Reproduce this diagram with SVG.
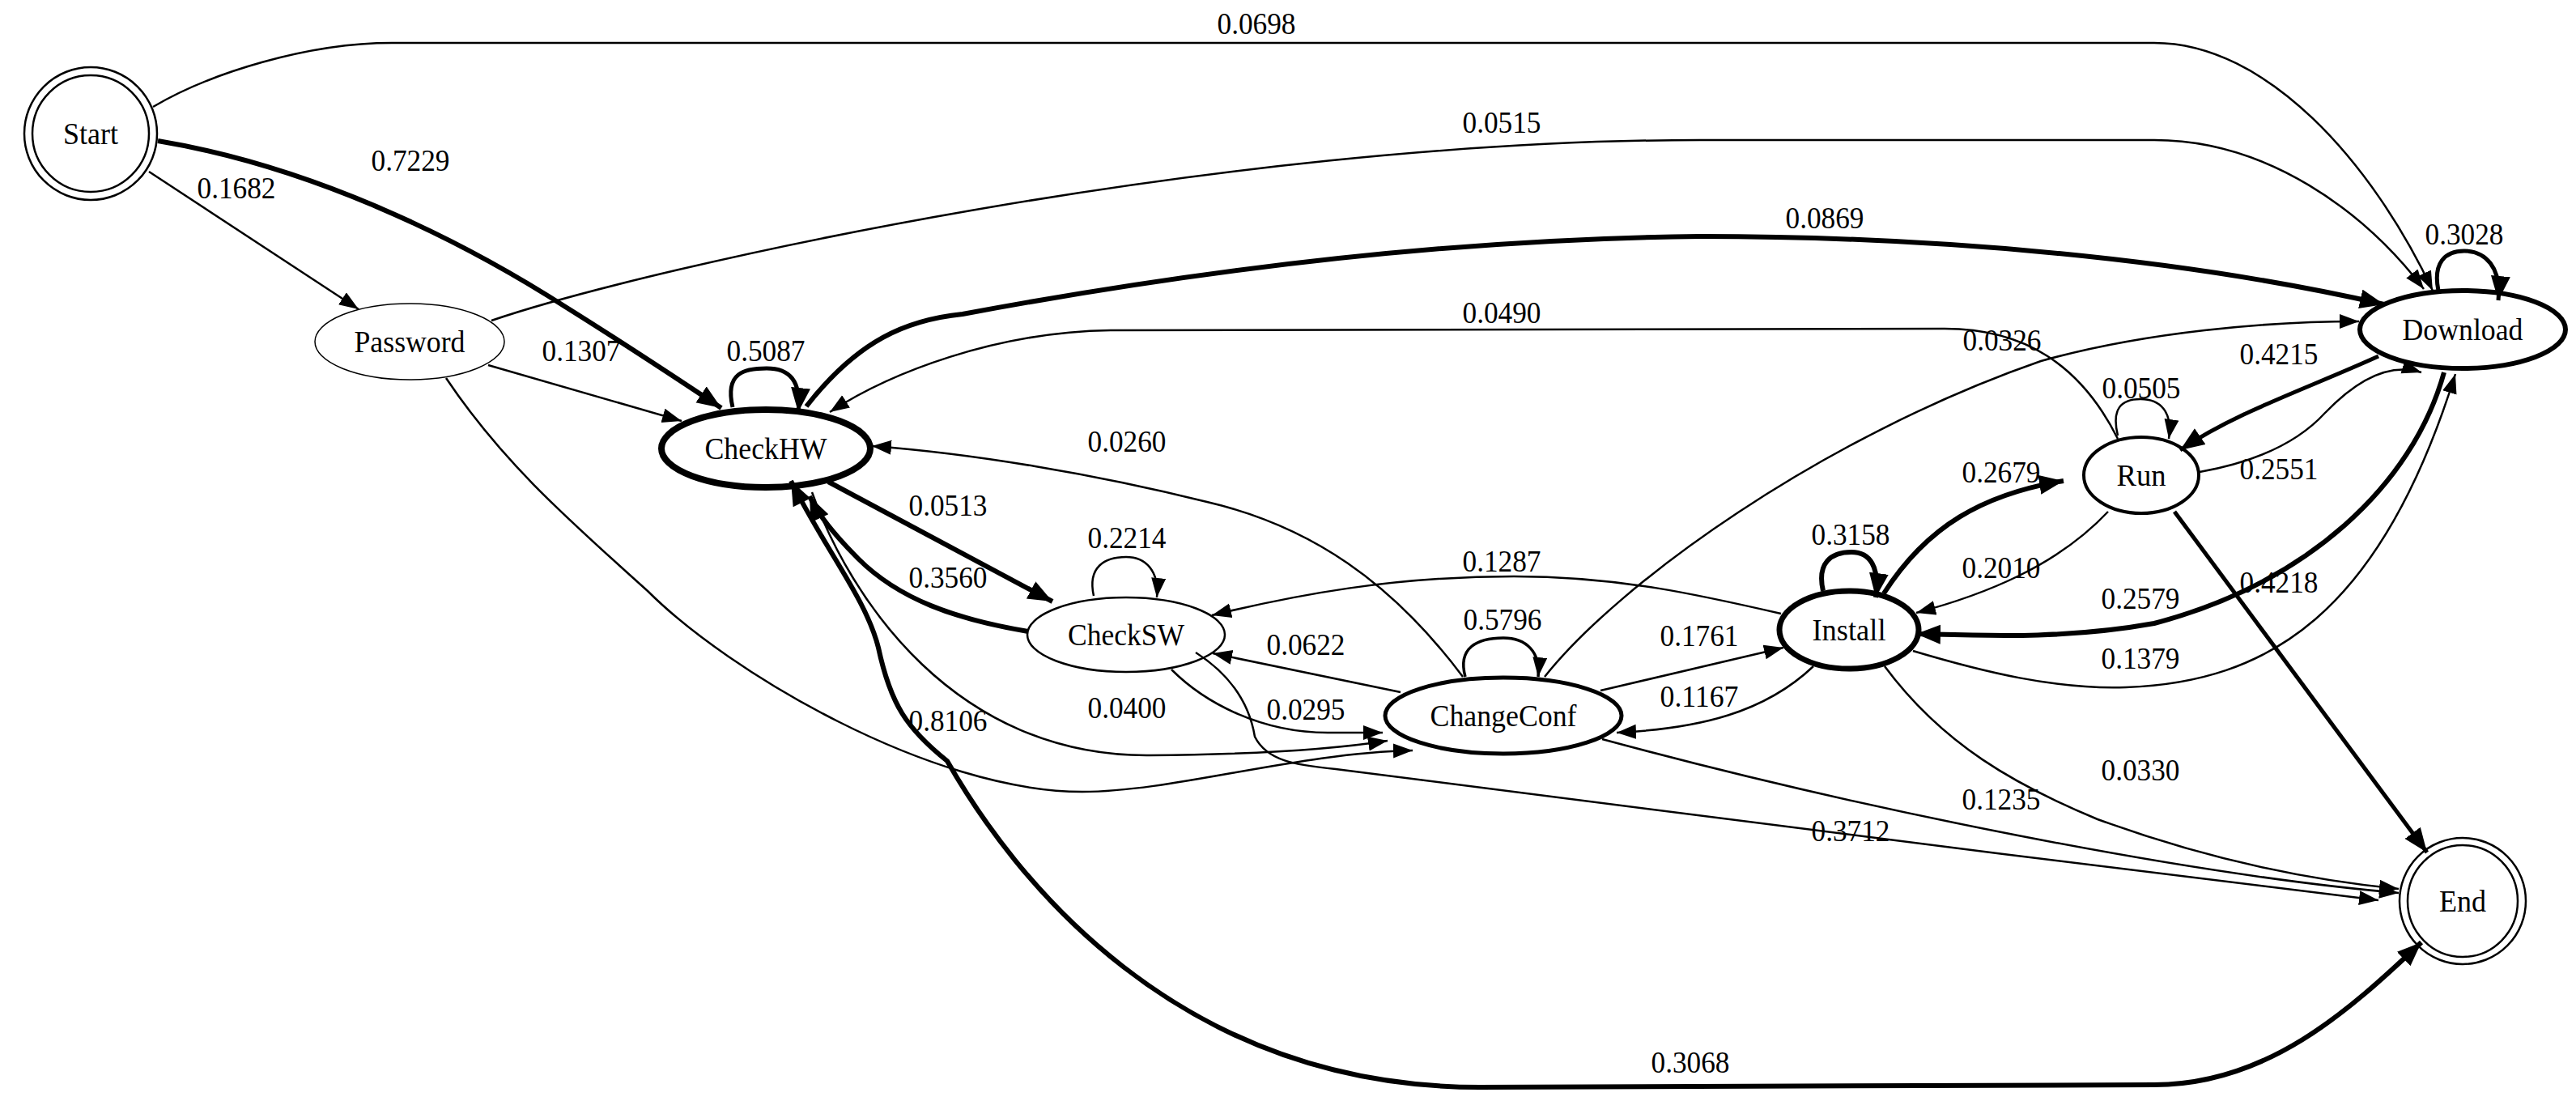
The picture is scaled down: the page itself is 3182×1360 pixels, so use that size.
<svg xmlns="http://www.w3.org/2000/svg" width="3182" height="1360" viewBox="0 0 3182 1360">
<style>
text{font-family:"Liberation Serif","Times New Roman",serif;font-size:38px;fill:#000;text-anchor:middle}
.n{fill:none;stroke:#000}
.e{fill:none;stroke:#000;stroke-width:2.5;marker-end:url(#a)}
.t{fill:none;stroke:#000;stroke-width:6;marker-end:url(#b)}
</style>
<defs>
<marker id="a" markerUnits="userSpaceOnUse" markerWidth="26" markerHeight="20" refX="24" refY="9" orient="auto"><path d="M0,0 L24,9 L0,18 Z" fill="#000"/></marker>
<marker id="b" markerUnits="userSpaceOnUse" markerWidth="32" markerHeight="26" refX="30" refY="12" orient="auto"><path d="M0,0 L30,12 L0,24 Z" fill="#000"/></marker>
<marker id="bs" markerUnits="userSpaceOnUse" markerWidth="32" markerHeight="26" refX="0" refY="12" orient="auto"><path d="M30,0 L0,12 L30,24 Z" fill="#000"/></marker>
</defs>
<rect width="3182" height="1360" fill="#fff"/>
<g id="edges">
<path class="e" d="M189,132 C260,90 380,53 484,53 L2661,53 C2800,53 2930,200 3005,359"/>
<path class="e" d="M607,396 C800,330 1500,173 2100,173 L2661,173 C2800,173 2920,260 2994,357"/>
<path class="t" d="M996,502 C1060,420 1120,395 1189,388 C1500,330 1800,295 2100,292 C2400,292 2700,320 2945,376"/>
<path class="e" d="M2616,542 C2570,450 2500,406 2402,406 L1372,408 C1230,410 1100,460 1025,509"/>
<path class="e" d="M1908,836 C2000,720 2250,540 2521,446 C2650,410 2800,397 2914,397"/>
<path class="e" d="M603,451 L842,520"/>
<path class="e" d="M184,212 L443,382"/>
<path class="t" d="M195,174 C380,205 560,290 700,380 C780,430 840,470 891,504"/>
<path class="t" style="stroke-width:5" d="M905,503 C895,460 920,455 947,455 C975,455 990,470 986,509"/>
<path class="e" d="M551,467 C620,570 700,640 800,730 C900,830 1150,978 1337,978 C1450,978 1600,930 1745,927"/>
<path class="t" d="M1023,595 L1300,743"/>
<path class="t" d="M1270,780 C1180,765 1110,740 1060,690 C1030,660 1010,635 1000,613"/>
<path class="t" style="marker-start:url(#bs)" d="M977,594 C1020,680 1070,740 1085,800 C1100,870 1120,900 1170,940 C1250,1080 1450,1343 1828,1343 L2661,1340 C2800,1340 2900,1250 2991,1164"/>
<path class="e" d="M1003,608 C1050,740 1180,935 1420,933 C1560,932 1650,925 1714,915"/>
<path class="e" d="M1447,827 C1490,870 1560,905 1640,905 L1708,905"/>
<path class="e" d="M1477,806 C1530,840 1545,880 1550,910 C1565,940 1600,945 1650,950 C1850,975 2500,1060 2938,1112"/>
<path class="e" d="M1730,855 L1498,807"/>
<path class="e" d="M1807,836 C1720,720 1620,650 1491,620 C1350,585 1200,560 1077,551"/>
<path class="e" style="stroke-width:3.5" d="M1810,836 C1800,800 1825,788 1857,788 C1885,788 1903,805 1900,836"/>
<path class="e" d="M1351,736 C1343,700 1365,688 1391,688 C1415,688 1432,705 1429,738"/>
<path class="e" d="M1977,853 L2203,800"/>
<path class="e" d="M2240,823 C2180,880 2100,900 1997,905"/>
<path class="t" d="M2252,730 C2244,695 2262,682 2287,682 C2310,682 2322,700 2317,738"/>
<path class="e" d="M2200,758 C2100,735 2000,712 1870,712 C1720,712 1600,735 1497,760"/>
<path class="e" d="M2604,632 C2540,700 2450,735 2367,757"/>
<path class="t" d="M3019,460 C2980,600 2850,720 2661,770 C2550,790 2450,785 2367,783"/>
<path class="e" d="M2363,804 C2450,830 2540,852 2626,849 C2800,843 2940,760 3033,462"/>
<path class="t" d="M2327,733 C2380,650 2450,610 2549,594"/>
<path class="e" d="M2328,823 C2400,920 2490,970 2591,1012 C2750,1070 2880,1090 2963,1098"/>
<path class="e" d="M1979,913 C2300,1000 2700,1080 2963,1103"/>
<path class="t" style="stroke-width:5" d="M2686,632 L2998,1053"/>
<path class="e" d="M2717,583 C2790,570 2840,545 2872,510 C2920,460 2960,450 2991,460"/>
<path class="t" style="stroke-width:5" d="M2938,440 C2850,480 2760,510 2693,556"/>
<path class="e" d="M2616,538 C2608,505 2620,493 2644,493 C2668,493 2684,508 2679,542"/>
<path class="t" style="stroke-width:5" d="M3012,359 C3005,325 3020,310 3044,310 C3070,310 3090,330 3086,371"/>
</g>
<g id="labels">
<text x="1552" y="42" textLength="97" lengthAdjust="spacingAndGlyphs">0.0698</text>
<text x="507" y="211" textLength="97" lengthAdjust="spacingAndGlyphs">0.7229</text>
<text x="292" y="245" textLength="97" lengthAdjust="spacingAndGlyphs">0.1682</text>
<text x="1855" y="164" textLength="97" lengthAdjust="spacingAndGlyphs">0.0515</text>
<text x="2254" y="282" textLength="97" lengthAdjust="spacingAndGlyphs">0.0869</text>
<text x="3044" y="302" textLength="97" lengthAdjust="spacingAndGlyphs">0.3028</text>
<text x="1855" y="399" textLength="97" lengthAdjust="spacingAndGlyphs">0.0490</text>
<text x="2473" y="433" textLength="97" lengthAdjust="spacingAndGlyphs">0.0326</text>
<text x="946" y="446" textLength="97" lengthAdjust="spacingAndGlyphs">0.5087</text>
<text x="718" y="446" textLength="97" lengthAdjust="spacingAndGlyphs">0.1307</text>
<text x="2815" y="450" textLength="97" lengthAdjust="spacingAndGlyphs">0.4215</text>
<text x="2645" y="492" textLength="97" lengthAdjust="spacingAndGlyphs">0.0505</text>
<text x="1392" y="558" textLength="97" lengthAdjust="spacingAndGlyphs">0.0260</text>
<text x="2815" y="592" textLength="97" lengthAdjust="spacingAndGlyphs">0.2551</text>
<text x="2472" y="596" textLength="97" lengthAdjust="spacingAndGlyphs">0.2679</text>
<text x="1171" y="637" textLength="97" lengthAdjust="spacingAndGlyphs">0.0513</text>
<text x="1392" y="677" textLength="97" lengthAdjust="spacingAndGlyphs">0.2214</text>
<text x="2286" y="673" textLength="97" lengthAdjust="spacingAndGlyphs">0.3158</text>
<text x="2472" y="714" textLength="97" lengthAdjust="spacingAndGlyphs">0.2010</text>
<text x="1855" y="706" textLength="97" lengthAdjust="spacingAndGlyphs">0.1287</text>
<text x="1171" y="726" textLength="97" lengthAdjust="spacingAndGlyphs">0.3560</text>
<text x="2815" y="732" textLength="97" lengthAdjust="spacingAndGlyphs">0.4218</text>
<text x="1856" y="778" textLength="97" lengthAdjust="spacingAndGlyphs">0.5796</text>
<text x="2644" y="752" textLength="97" lengthAdjust="spacingAndGlyphs">0.2579</text>
<text x="2099" y="798" textLength="97" lengthAdjust="spacingAndGlyphs">0.1761</text>
<text x="1613" y="809" textLength="97" lengthAdjust="spacingAndGlyphs">0.0622</text>
<text x="2644" y="826" textLength="97" lengthAdjust="spacingAndGlyphs">0.1379</text>
<text x="2099" y="873" textLength="97" lengthAdjust="spacingAndGlyphs">0.1167</text>
<text x="1392" y="887" textLength="97" lengthAdjust="spacingAndGlyphs">0.0400</text>
<text x="1613" y="889" textLength="97" lengthAdjust="spacingAndGlyphs">0.0295</text>
<text x="1171" y="903" textLength="97" lengthAdjust="spacingAndGlyphs">0.8106</text>
<text x="2644" y="964" textLength="97" lengthAdjust="spacingAndGlyphs">0.0330</text>
<text x="2472" y="1000" textLength="97" lengthAdjust="spacingAndGlyphs">0.1235</text>
<text x="2286" y="1039" textLength="97" lengthAdjust="spacingAndGlyphs">0.3712</text>
<text x="2088" y="1325" textLength="97" lengthAdjust="spacingAndGlyphs">0.3068</text>
</g>
<g id="Start"><circle class="n" cx="112" cy="165" r="82" stroke-width="2.5"/><circle class="n" cx="112" cy="165" r="72" stroke-width="2.5"/><text x="112" y="178" textLength="68" lengthAdjust="spacingAndGlyphs">Start</text></g>
<g id="Password"><ellipse class="n" cx="506" cy="422" rx="117" ry="47" stroke-width="1.5"/><text x="506" y="435" textLength="137" lengthAdjust="spacingAndGlyphs">Password</text></g>
<g id="CheckHW"><ellipse class="n" cx="946" cy="554" rx="129" ry="48" stroke-width="8"/><text x="946" y="567" textLength="151" lengthAdjust="spacingAndGlyphs">CheckHW</text></g>
<g id="CheckSW"><ellipse class="n" cx="1391" cy="784" rx="122" ry="46" stroke-width="2.5"/><text x="1391" y="797" textLength="144" lengthAdjust="spacingAndGlyphs">CheckSW</text></g>
<g id="ChangeConf"><ellipse class="n" cx="1857" cy="884" rx="146" ry="47" stroke-width="5"/><text x="1857" y="897" textLength="181" lengthAdjust="spacingAndGlyphs">ChangeConf</text></g>
<g id="Install"><ellipse class="n" cx="2284" cy="778" rx="86" ry="48" stroke-width="7"/><text x="2284" y="791" textLength="91" lengthAdjust="spacingAndGlyphs">Install</text></g>
<g id="Run"><ellipse class="n" cx="2645" cy="587" rx="71" ry="47" stroke-width="4"/><text x="2645" y="600" textLength="61" lengthAdjust="spacingAndGlyphs">Run</text></g>
<g id="Download"><ellipse class="n" cx="3042" cy="407" rx="127" ry="48" stroke-width="6"/><text x="3042" y="420" textLength="149" lengthAdjust="spacingAndGlyphs">Download</text></g>
<g id="End"><ellipse class="n" cx="3042" cy="1113" rx="78" ry="78" stroke-width="2.5"/><ellipse class="n" cx="3042" cy="1113" rx="68" ry="69" stroke-width="2.5"/><text x="3042" y="1126" textLength="58" lengthAdjust="spacingAndGlyphs">End</text></g>
</svg>
